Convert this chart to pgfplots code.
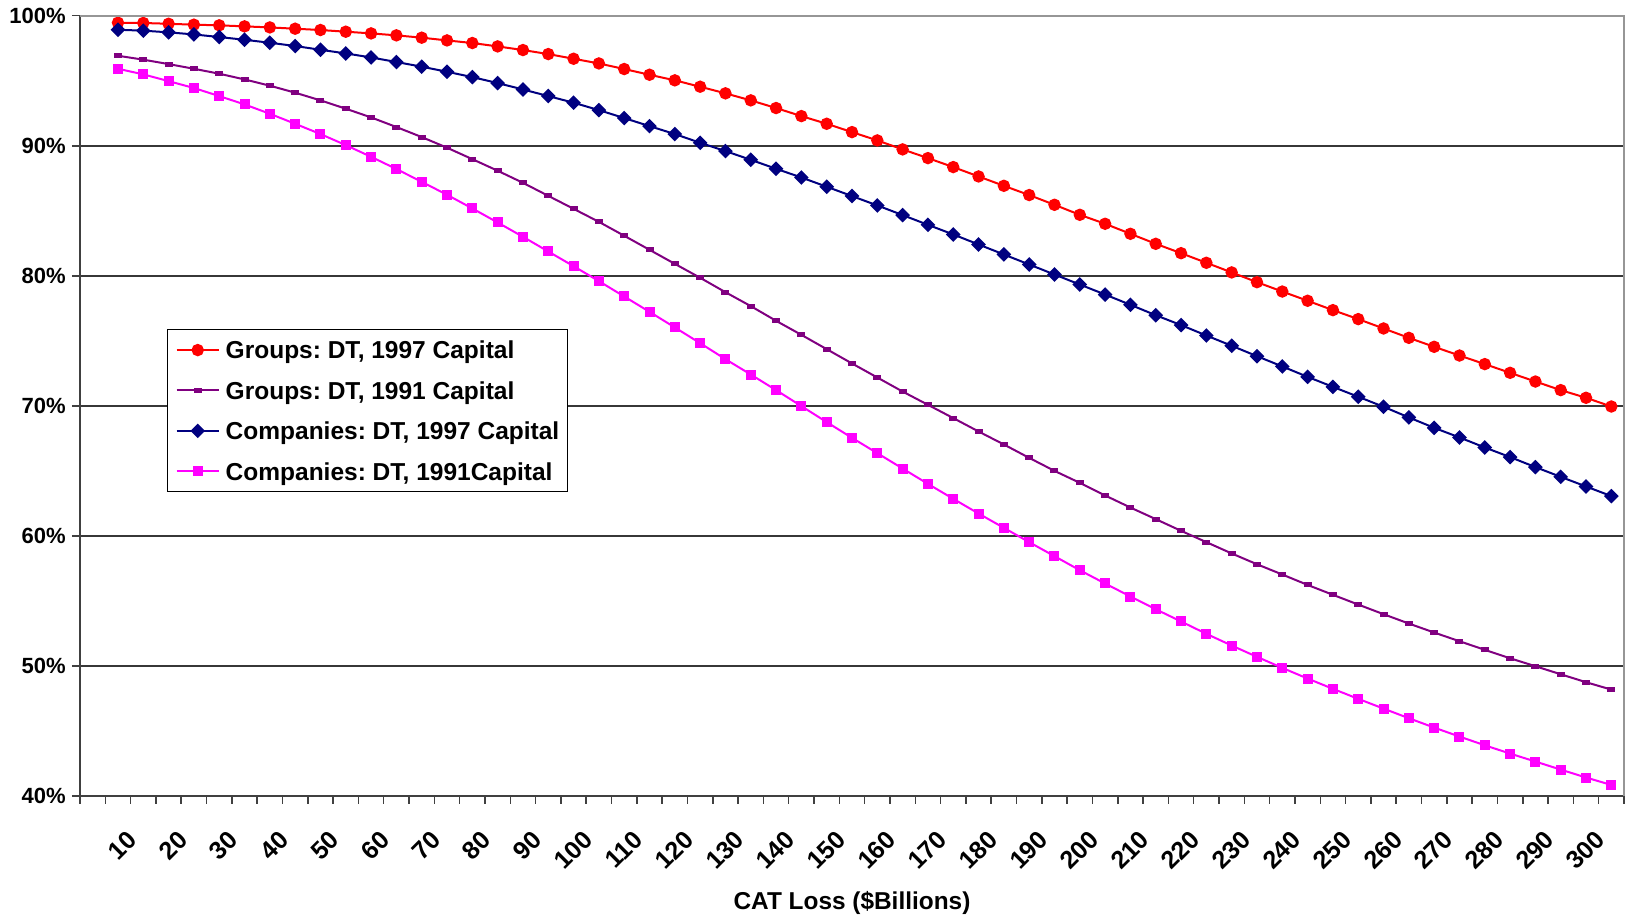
\documentclass[border=0pt]{standalone}
\usepackage{fontspec}
\setmainfont{Liberation Sans}
\usepackage{pgfplots}
\pgfplotsset{compat=1.18}
\usepackage{pgfplotstable}
\frenchspacing

\definecolor{grpnew}{RGB}{255,0,0}
\definecolor{grpold}{RGB}{128,0,128}
\definecolor{conew}{RGB}{0,0,128}
\definecolor{coold}{RGB}{255,0,255}
\definecolor{axisdark}{RGB}{64,64,64}
\definecolor{gridc}{RGB}{55,55,55}
\definecolor{frame}{RGB}{150,150,150}

% Probability of remaining solvent after a catastrophe loss (percent)
\pgfplotstableread{
loss g97   g91   c97   c91
5    99.46 96.92 98.92 95.92
10   99.44 96.62 98.85 95.49
15   99.38 96.28 98.72 94.97
20   99.31 95.92 98.56 94.44
25   99.26 95.54 98.36 93.82
30   99.18 95.10 98.15 93.18
35   99.10 94.62 97.92 92.46
40   99.00 94.08 97.67 91.69
45   98.90 93.49 97.38 90.90
50   98.77 92.85 97.10 90.05
55   98.64 92.18 96.79 89.15
60   98.49 91.44 96.44 88.21
65   98.31 90.67 96.08 87.23
70   98.10 89.85 95.69 86.23
75   97.90 88.97 95.28 85.18
80   97.64 88.08 94.82 84.10
85   97.36 87.15 94.33 83.00
90   97.05 86.15 93.82 81.87
95   96.69 85.15 93.31 80.74
100  96.33 84.15 92.74 79.59
105  95.90 83.08 92.13 78.41
110  95.46 82.00 91.51 77.23
115  95.03 80.92 90.90 76.03
120  94.54 79.85 90.23 74.82
125  94.03 78.74 89.59 73.59
130  93.49 77.67 88.92 72.41
135  92.90 76.54 88.23 71.21
140  92.28 75.46 87.56 69.98
145  91.69 74.36 86.85 68.75
150  91.05 73.26 86.13 67.54
155  90.41 72.18 85.41 66.36
160  89.72 71.10 84.67 65.18
165  89.05 70.08 83.92 64.00
170  88.36 69.06 83.18 62.85
175  87.64 68.03 82.41 61.72
180  86.92 67.03 81.64 60.62
185  86.21 66.00 80.87 59.52
190  85.46 65.00 80.10 58.44
195  84.69 64.08 79.33 57.36
200  84.00 63.11 78.56 56.34
205  83.23 62.18 77.77 55.34
210  82.46 61.29 76.97 54.36
215  81.74 60.39 76.21 53.42
220  81.00 59.52 75.41 52.47
225  80.26 58.65 74.62 51.57
230  79.51 57.82 73.82 50.70
235  78.79 57.03 73.03 49.85
240  78.08 56.23 72.23 49.03
245  77.36 55.47 71.46 48.24
250  76.67 54.72 70.70 47.47
255  75.95 53.98 69.93 46.72
260  75.23 53.26 69.11 45.98
265  74.54 52.57 68.31 45.26
270  73.87 51.90 67.57 44.57
275  73.21 51.24 66.80 43.90
280  72.54 50.59 66.06 43.26
285  71.87 49.98 65.29 42.65
290  71.21 49.36 64.54 42.03
295  70.62 48.75 63.80 41.42
300  69.95 48.18 63.06 40.85
}\survival

\begin{document}
\begin{tikzpicture}
\begin{axis}[
  name=main,
  scale only axis,
  width=772pt, height=390.15pt,
  xmin=-2.5, xmax=302.5,
  ymin=40, ymax=100,
  axis x line*=bottom, axis y line*=left,
  axis line style={axisdark, line width=1pt},
  tick align=outside,
  major tick length=4pt,
  tick style={axisdark, line width=0.75pt},
  % tick marks on the category boundaries
  xtick={-2.5,2.5,...,302.5},
  xticklabels={},
  % labels on every second category, without marks
  extra x ticks={10,20,30,40,50,60,70,80,90,100,110,120,130,140,150,160,170,180,190,200,210,220,230,240,250,260,270,280,290,300},
  extra x tick labels={10,20,30,40,50,60,70,80,90,100,110,120,130,140,150,160,170,180,190,200,210,220,230,240,250,260,270,280,290,300},
  extra x tick style={major tick length=0pt},
  xticklabel style={font=\fontsize{12.5}{14}\selectfont\bfseries, inner sep=0pt,
    xshift=-5.4pt, yshift=-19.5pt, rotate=45, anchor=east},
  ytick={40,50,60,70,80,90,100},
  yticklabels={40\%,50\%,60\%,70\%,80\%,90\%,100\%},
  yticklabel style={font=\fontsize{11}{13}\selectfont\bfseries, inner sep=0pt, anchor=east, xshift=-3pt},
  ymajorgrids,
  major grid style={gridc, line width=0.75pt},
  xlabel={CAT Loss (\$Billions)},
  xlabel style={at={(axis description cs:0.5,0)}, anchor=center, yshift=-53.5pt,
    font=\fontsize{12.2}{14}\selectfont\bfseries},
  legend style={at={(axis description cs:0.0565,0.598)}, anchor=north west,
    draw=black, line width=0.5pt, fill=white,
    inner xsep=4pt, inner ysep=0pt,
    font=\fontsize{12.25}{14}\selectfont\bfseries,
    nodes={inner sep=0pt, text height=14.5pt, text depth=5.7pt},
    column sep=3pt},
  legend cell align=left,
  legend image code/.code={
    \draw[mark repeat=2, mark phase=2, #1] plot coordinates {(0pt,0pt) (10.5pt,0pt) (21pt,0pt)};
  },
]
\addplot[grpnew, line width=1pt, mark=*, mark size=2.6pt]
  table[x=loss, y=g97]{\survival};
\addlegendentry{Groups: DT, 1997 Capital}
\addplot[grpold, line width=1pt, mark=square*, mark size=1pt,
  mark options={xscale=1.5, yscale=0.75}]
  table[x=loss, y=g91]{\survival};
\addlegendentry{Groups: DT, 1991 Capital}
\addplot[conew, line width=1pt, mark=square*, mark size=2.1pt,
  mark options={rotate=45}]
  table[x=loss, y=c97]{\survival};
\addlegendentry{Companies: DT, 1997 Capital}
\addplot[coold, line width=1pt, mark=square*, mark size=2pt]
  table[x=loss, y=c91]{\survival};
\addlegendentry{Companies: DT, 1991Capital}
\end{axis}
% plot-area frame on the top and right
\draw[frame, line width=1pt] (main.north west) -- (main.north east) -- (main.south east);
\pgfresetboundingbox
\path (-40pt,-62.5pt) rectangle (774.5pt,398pt);
\end{tikzpicture}
\end{document}
